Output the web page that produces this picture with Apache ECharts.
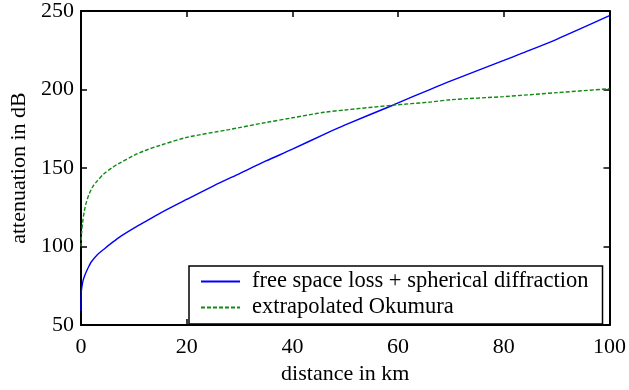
<!DOCTYPE html>
<html>
<head>
<meta charset="utf-8">
<script src="https://cdn.jsdelivr.net/npm/echarts@6/dist/echarts.min.js"></script>
<style>
  html, body { margin: 0; padding: 0; background: #fff; }
  #chart { width: 629px; height: 390px; }
</style>
</head>
<body>
<div id="chart"></div>
<script>
// distance (km) and attenuation (dB) for each model
const freeSpaceDist = [0, 0.05, 0.2, 0.4, 0.64, 1, 1.5, 1.9, 3, 4.4, 6, 7.5, 10, 12, 15, 20, 25, 30, 35, 40, 46, 50, 59, 60, 66, 70, 80, 83, 90, 100];
const freeSpaceLoss = [59, 71, 75, 78.5, 81, 84, 87.5, 90, 94.5, 98.5, 102.8, 106.5, 111.7, 115.6, 121.3, 130, 138.5, 146.5, 154.5, 162, 171.5, 177.5, 190, 191.5, 200, 205.5, 218.5, 222.5, 232, 247];
const okumuraDist = [0, 0.1, 0.3, 0.6, 0.95, 1.5, 2.2, 3, 4.4, 6, 7.5, 10, 12, 15, 20, 28, 35, 40, 46, 50, 59, 66, 70, 80, 90, 100];
const okumuraLoss = [100, 108, 115, 122, 127.5, 133, 138, 141.5, 146.5, 150.5, 153.5, 158, 161, 164.5, 169.5, 174.5, 179, 182, 185.5, 187, 190, 192, 193.5, 195.5, 198, 200.5];
const seriesNames = ['free space loss + spherical diffraction', 'extrapolated Okumura'];
const xTitle = 'distance in km';
const yTitle = 'attenuation in dB';

const pairs = (xs, ys) => xs.map((x, i) => [x, ys[i]]);
const font = 'Liberation Serif, Times New Roman, serif';

const axisLine = { show: true, onZero: false, lineStyle: { color: '#000', width: 2 } };
const axisTick = { show: true, inside: true, length: 6, lineStyle: { color: '#000', width: 1.5 } };
const labelStyle = { color: '#000', fontFamily: font, fontSize: 22 };

const chart = echarts.init(document.getElementById('chart'), null, { renderer: 'canvas' });
chart.setOption({
  animation: false,
  backgroundColor: '#fff',
  grid: { left: 81, right: 17, top: 11, bottom: 59, containLabel: false },
  xAxis: [
    {
      type: 'value', min: 0, max: 100, interval: 20, position: 'bottom',
      axisLine, axisTick, splitLine: { show: false },
      axisLabel: Object.assign({ margin: 11 }, labelStyle),
      name: xTitle, nameLocation: 'middle', nameGap: 32,
      nameTextStyle: labelStyle
    },
    {
      type: 'value', min: 0, max: 100, interval: 20, position: 'top',
      axisLine, axisTick, splitLine: { show: false }, axisLabel: { show: false }
    }
  ],
  yAxis: [
    {
      type: 'value', min: 50, max: 250, interval: 50, position: 'left',
      axisLine, axisTick, splitLine: { show: false },
      axisLabel: Object.assign({ margin: 7 }, labelStyle),
      name: yTitle, nameLocation: 'middle', nameGap: 40, nameRotate: 90,
      nameTextStyle: labelStyle
    },
    {
      type: 'value', min: 50, max: 250, interval: 50, position: 'right',
      axisLine, axisTick, splitLine: { show: false }, axisLabel: { show: false }
    }
  ],
  legend: {
    orient: 'vertical',
    left: 189, top: 266,
    padding: [4, 14, 5, 11],
    itemGap: 3,
    itemWidth: 39,
    itemHeight: 14,
    borderColor: '#000',
    borderWidth: 1.5,
    backgroundColor: '#fff',
    itemStyle: { color: 'rgba(0,0,0,0)', borderColor: 'rgba(0,0,0,0)', borderWidth: 0, opacity: 0 },
    textStyle: { color: '#000', fontFamily: font, fontSize: 22.5, padding: [0, 0, 0, 7] },
    data: seriesNames
  },
  series: [
    {
      name: seriesNames[0], type: 'line', showSymbol: false, symbol: 'none',
      data: pairs(freeSpaceDist, freeSpaceLoss), smooth: 0.3,
      lineStyle: { color: '#0000ff', width: 1.4 }, itemStyle: { color: '#0000ff' }
    },
    {
      name: seriesNames[1], type: 'line', showSymbol: false, symbol: 'none',
      data: pairs(okumuraDist, okumuraLoss), smooth: 0.3,
      lineStyle: { color: '#118a11', width: 1.4, type: [4, 2] }, itemStyle: { color: '#118a11' }
    }
  ]
});
</script>
</body>
</html>
